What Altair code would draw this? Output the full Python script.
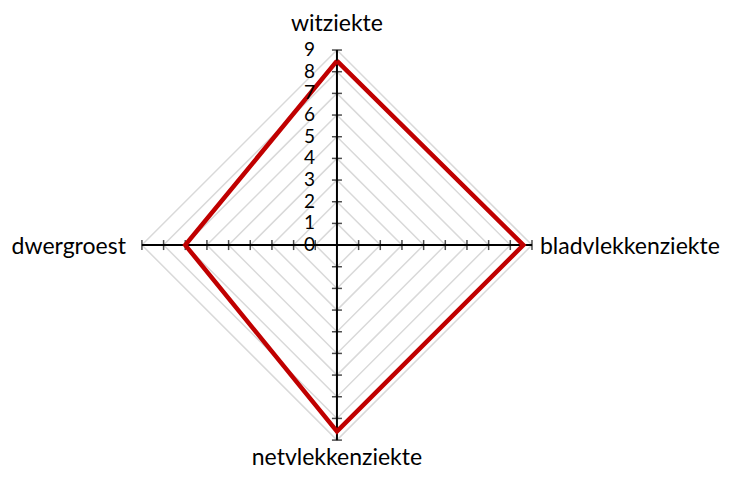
import altair as alt
import pandas as pd

categories = ["witziekte", "bladvlekkenziekte", "netvlekkenziekte", "dwergroest"]
values = [8.5, 8.6, 8.6, 7.0]
levels = [1, 2, 3, 4, 5, 6, 7, 8, 9]
tick_labels = ["0", "1", "2", "3", "4", "5", "6", "7", "8", "9"]
scale_max = 9

n = len(categories)

# polygon (closed)
poly_df = pd.DataFrame({
    "category": categories + [categories[0]],
    "value": values + [values[0]],
    "idx": list(range(n)) + [n],
})

# grid rings
grid_rows = []
for lv in levels:
    for i in range(n + 1):
        grid_rows.append({"level": lv, "idx": i, "r": lv})
grid_df = pd.DataFrame(grid_rows)

# axes spokes
axis_rows = []
for i in range(n):
    axis_rows.append({"idx": i, "r": 0, "k": 0})
    axis_rows.append({"idx": i, "r": scale_max, "k": 1})
axis_df = pd.DataFrame(axis_rows)

# tick marks
tick_rows = [{"idx": i, "r": lv} for i in range(n) for lv in levels]
tick_df = pd.DataFrame(tick_rows)

# number labels along the first axis
num_df = pd.DataFrame({"label": tick_labels, "r": [int(t) for t in tick_labels], "idx": 0})

# category labels
cat_df = pd.DataFrame({"category": categories, "idx": list(range(n)), "r": scale_max})

ang = "datum.idx * 2 * PI / %d" % n
xcalc = "datum.r * sin(%s)" % ang
ycalc = "datum.r * cos(%s)" % ang

W = 719
H = 461
K = 21.67
xmin = -15.18
ymax = 10.94
xs = alt.Scale(domain=[xmin, xmin + W / K], nice=False, zero=False)
ys = alt.Scale(domain=[ymax - H / K, ymax], nice=False, zero=False)

def X():
    return alt.X("px:Q", scale=xs, axis=None)

def Y():
    return alt.Y("py:Q", scale=ys, axis=None)

FONT = "Lato"
FS_CAT = 23
FS_NUM = 19

grid = alt.Chart(grid_df).transform_calculate(px=xcalc, py=ycalc).mark_line(
    color="#d9d9d9", strokeWidth=1.5
).encode(x=X(), y=Y(), detail="level:N", order="idx:Q")

axes = alt.Chart(axis_df).transform_calculate(px=xcalc, py=ycalc).mark_line(
    color="black", strokeWidth=2
).encode(x=X(), y=Y(), detail="idx:N", order="k:Q")

ticks_v = alt.Chart(tick_df).transform_filter("datum.idx % 2 == 0").transform_calculate(
    px=xcalc, py=ycalc
).mark_tick(color="black", orient="horizontal", size=10, thickness=1.5).encode(x=X(), y=Y())

ticks_h = alt.Chart(tick_df).transform_filter("datum.idx % 2 == 1").transform_calculate(
    px=xcalc, py=ycalc
).mark_tick(color="black", orient="vertical", size=10, thickness=1.5).encode(x=X(), y=Y())

poly = alt.Chart(poly_df).transform_calculate(r="datum.value").transform_calculate(
    px=xcalc, py=ycalc
).mark_line(color="#c00000", strokeWidth=4.5, strokeJoin="miter").encode(
    x=X(), y=Y(), order="idx:Q"
)

nums = alt.Chart(num_df).transform_calculate(px=xcalc, py=ycalc).mark_text(
    align="right", baseline="middle", dx=-22, font=FONT, fontSize=FS_NUM, color="black"
).encode(x=X(), y=Y(), text="label:N")

def cat_layer(idx, **kw):
    return alt.Chart(cat_df).transform_filter("datum.idx == %d" % idx).transform_calculate(
        px=xcalc, py=ycalc
    ).mark_text(font=FONT, fontSize=FS_CAT, color="black", baseline="alphabetic", **kw).encode(
        x=X(), y=Y(), text="category:N"
    )

lab_top = cat_layer(0, align="center", dy=-19)
lab_right = cat_layer(1, align="left", dx=8, dy=9)
lab_bottom = cat_layer(2, align="center", dy=25)
lab_left = cat_layer(3, align="right", dx=-16, dy=9)

chart = alt.layer(
    grid, axes, ticks_v, ticks_h, poly, nums, lab_top, lab_right, lab_bottom, lab_left
).properties(
    width=W, height=H, autosize=alt.AutoSizeParams(type="none"), padding=0
).configure_view(stroke=None)

chart.save("out.html", embed_options={"renderer": "svg", "actions": False})
